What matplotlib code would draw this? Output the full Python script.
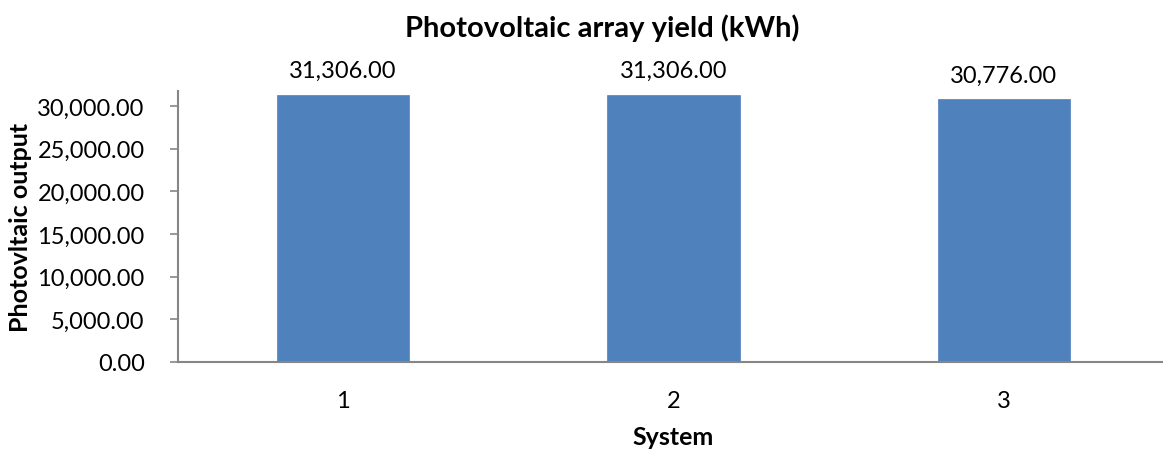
import matplotlib.pyplot as plt
from matplotlib.ticker import FuncFormatter

# data
systems = ["1", "2", "3"]
yield_kwh = [31306.00, 31306.00, 30776.00]
y_ticks = [0, 5000, 10000, 15000, 20000, 25000, 30000]

plt.rcParams['font.family'] = ['Lato', 'DejaVu Sans']

fig = plt.figure(figsize=(11.63, 4.52), dpi=100)
# axes right edge runs a bit past the image edge, as in the original
ax = fig.add_axes([178 / 1163, 1 - 363 / 452, (1169 - 178) / 1163, (363 - 92) / 452])

x = range(1, len(systems) + 1)
bars = ax.bar(x, yield_kwh, width=0.4, color='#4f81bd', edgecolor='#4f81bd', linewidth=0.5)

for b, v in zip(bars, yield_kwh):
    ax.annotate(f"{v:,.2f}", (b.get_x() + b.get_width() / 2, v), xytext=(0, 10),
                textcoords='offset points', ha='center', va='bottom', fontsize=17)

ax.set_xlim(0.5, 3.5)
ax.set_ylim(0, 31750)
ax.set_xticks(list(x))
ax.set_xticklabels(systems, fontsize=17)
ax.set_yticks(y_ticks)
ax.yaxis.set_major_formatter(FuncFormatter(lambda v, p: f"{v:,.2f}"))
ax.tick_params(axis='y', labelsize=17, length=6, width=1.2, color='#868686', pad=18)
ax.tick_params(axis='x', length=0, pad=20)

for s in ['top', 'right']:
    ax.spines[s].set_visible(False)
for s in ['left', 'bottom']:
    ax.spines[s].set_color('#868686')
    ax.spines[s].set_linewidth(1.5)

ax.set_xlabel("System", fontsize=18, weight='bold', labelpad=10)
ax.set_ylabel("Photovltaic output", fontsize=18, weight='bold', labelpad=4)
fig.text(0.518, 1 - 28 / 452, "Photovoltaic array yield (kWh)", ha='center', va='center',
         fontsize=21, weight='bold')

fig.savefig("out.png", dpi=100)
